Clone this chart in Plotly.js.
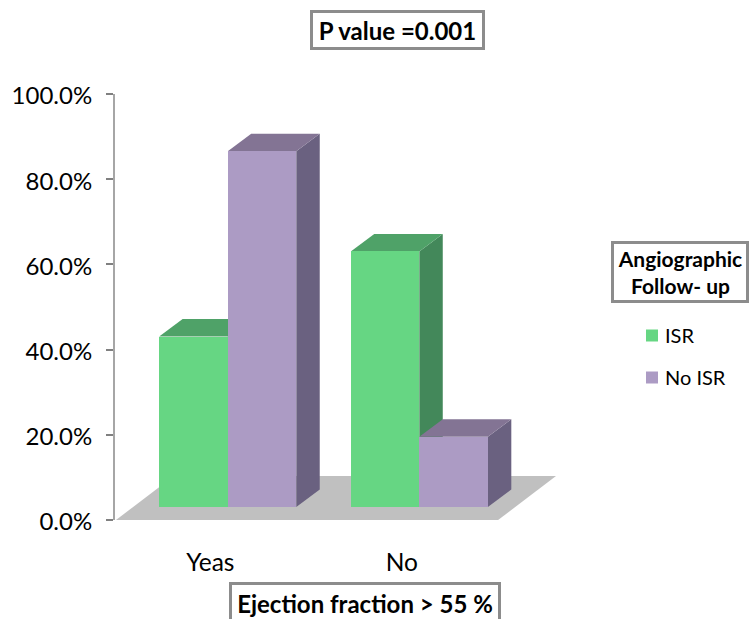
<!DOCTYPE html>
<html><head><meta charset="utf-8">
<script src="https://cdn.plot.ly/plotly-3.0.1.min.js"></script>
<style>html,body{margin:0;padding:0;background:#fff;overflow:hidden}</style></head>
<body><div id="chart" style="width:749px;height:619px"></div>
<script>
const categories = ['Yeas', 'No'];
const seriesNames = ['ISR', 'No ISR'];
const isrValues = [40, 60];
const noIsrValues = [83.5, 16.5];
const yTickValues = [0, 20, 40, 60, 80, 100];
const yTickLabels = ['0.0%', '20.0%', '40.0%', '60.0%', '80.0%', '100.0%'];

const W = 749, H = 619, L = 115, R = 560, T = 94, B = 520;
const pxPerCat = 192, cat0Px = 210.5;
const xu = p => (p - cat0Px) / pxPerCat;      // pixel -> x units
const yu = p => (B - p) / (B - T) * 100;      // pixel -> y units
const px = p => (p - L) / (R - L);            // pixel -> paper x
const py = p => (B - p) / (B - T);            // pixel -> paper y

const base = yu(507);
const barW = 68.7 / pxPerCat;
const offs = [(159.3 - cat0Px) / pxPerCat, (228 - cat0Px) / pxPerCat];
const dX = 23.5 / pxPerCat, dY = 17.5 / (B - T) * 100;

const colors = {
  front: ['#66d683', '#ac9bc4'],
  top: ['#4fa268', '#837494'],
  side: ['#43885a', '#6a6180']
};
const poly = pts => 'M' + pts.map(q => q[0] + ',' + q[1]).join('L') + 'Z';
const face = (path, fill) => ({type: 'path', xref: 'x', yref: 'y', layer: 'below', path,
  fillcolor: fill, line: {width: 0}});

const shapes = [
  // floor
  face(poly([[xu(116), 0], [xu(499), 0], [xu(557), yu(476)], [xu(174), yu(476)]]), '#c0c0c0')
];
[isrValues, noIsrValues].forEach((vals, s) => {
  vals.forEach((v, c) => {
    const x0 = c + offs[s], x1 = x0 + barW, y1 = base + v;
    shapes.push(face(poly([[x1, base], [x1 + dX, base + dY], [x1 + dX, y1 + dY], [x1, y1]]), colors.side[s]));
    shapes.push(face(poly([[x0, y1], [x1, y1], [x1 + dX, y1 + dY], [x0 + dX, y1 + dY]]), colors.top[s]));
  });
});

const xIdx = categories.map((_, i) => i);
const mkBar = (vals, s) => ({
  type: 'bar', x: xIdx, y: vals, base: vals.map(() => base),
  offset: offs[s], width: barW, name: seriesNames[s], legendgroup: 'g' + s,
  marker: {color: colors.front[s], line: {width: 0}}, hoverinfo: 'y'
});

const box = (text, x0, x1, y0, y1, size) => ({
  text: '<b>' + text + '</b>', showarrow: false, xref: 'paper', yref: 'paper',
  x: px((x0 + x1) / 2), y: py((y0 + y1) / 2), xanchor: 'center', yanchor: 'middle', align: 'center',
  width: x1 - x0 - 6, height: y1 - y0 - 6, borderpad: 0, borderwidth: 3, bordercolor: '#8c8c8c',
  bgcolor: '#fff', font: {family: 'Lato, sans-serif', size, color: '#000'}
});

const layout = {
  width: W, height: H, paper_bgcolor: '#fff', plot_bgcolor: '#fff', bargap: 0,
  margin: {l: L, r: W - R, t: T, b: H - B, pad: 0},
  font: {family: 'Lato, sans-serif', color: '#000'},
  xaxis: {type: 'linear', range: [xu(L), xu(R)], tickmode: 'array', tickvals: xIdx, ticktext: categories,
    showgrid: false, zeroline: false, showline: false, ticks: '', tickfont: {size: 24.5}, ticklabelstandoff: 25, fixedrange: true},
  yaxis: {range: [0, 100], tickmode: 'array', tickvals: yTickValues, ticktext: yTickLabels,
    showgrid: false, zeroline: false, showline: true, linecolor: '#a6a6a6', linewidth: 2,
    ticks: 'outside', ticklen: 7, tickwidth: 2, tickcolor: '#808080', tickfont: {size: 24}, ticklabelstandoff: 9, ticklabelshift: 2, fixedrange: true},
  shapes,
  annotations: [
    box('P value =0.001', 311, 486, 10, 50, 24),
    box('Ejection fraction &gt; 55 %', 230, 502, 582, 624, 24),
    box('Angiographic<br>Follow- up', 612, 750, 241, 303, 21)
  ],
  legend: {x: px(632), xanchor: 'left', y: py(316), yanchor: 'top', traceorder: 'grouped',
    tracegroupgap: 13, font: {size: 20, color: '#000'}, bgcolor: 'rgba(0,0,0,0)', borderwidth: 0}
};
Plotly.newPlot('chart', [mkBar(isrValues, 0), mkBar(noIsrValues, 1)], layout, {displayModeBar: false, staticPlot: true})
  .then(gd => {
    gd.querySelectorAll('.legendtext').forEach(t => t.setAttribute('x', parseFloat(t.getAttribute('x')) - 7));
  });
</script></body></html>
